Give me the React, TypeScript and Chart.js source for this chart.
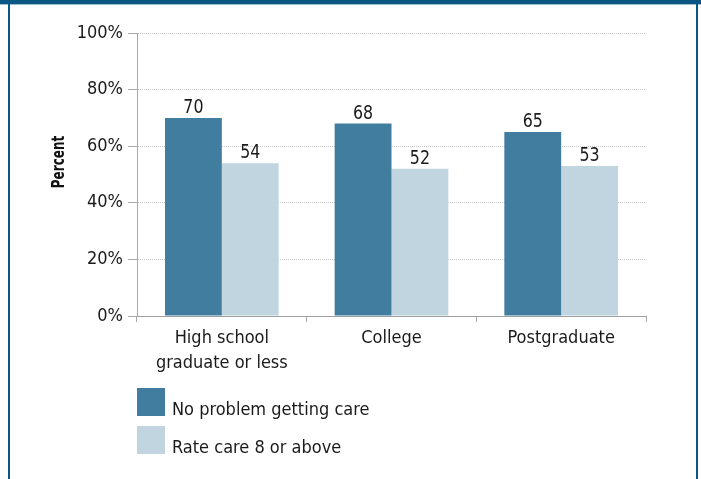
import React, { useEffect, useRef } from "react";
import { Chart, registerables } from "chart.js";

Chart.register(...registerables);

const categories: (string | string[])[] = [["High school", "graduate or less"], "College", "Postgraduate"];
const seriesNames = ["No problem getting care", "Rate care 8 or above"];
const noProblem = [70, 68, 65];
const rateCare = [54, 52, 53];
const yAxisTitle = "Percent";

const FONT = "'DejaVu Sans Condensed', 'DejaVu Sans', sans-serif";
const DARK = "#407d9f";
const LIGHT = "#c0d5e0";
const FRAME = "#0b5783";
const TEXT = "#1a1a1a";

const valueLabels = {
  id: "valueLabels",
  afterDatasetsDraw(chart: any) {
    const ctx = chart.ctx;
    chart.data.datasets.forEach((ds: any, i: number) => {
      const meta = chart.getDatasetMeta(i);
      meta.data.forEach((bar: any, j: number) => {
        ctx.save();
        ctx.font = `20px ${FONT}`;
        ctx.fillStyle = TEXT;
        ctx.textAlign = "center";
        ctx.textBaseline = "alphabetic";
        ctx.translate(bar.x, bar.y - 5);
        ctx.scale(0.88, 1);
        ctx.fillText(String(ds.data[j]), 0, 0);
        ctx.restore();
      });
    });
  },
};

const customLegendAndTitle = {
  id: "customLegendAndTitle",
  afterDraw(chart: any) {
    const ctx = chart.ctx;
    const area = chart.chartArea;
    ctx.save();
    ctx.translate(59, 162);
    ctx.rotate(-Math.PI / 2);
    ctx.scale(0.74, 1);
    ctx.font = `bold 18px ${FONT}`;
    ctx.fillStyle = "#111";
    ctx.textAlign = "center";
    ctx.textBaseline = "middle";
    ctx.fillText(yAxisTitle, 0, 0);
    ctx.restore();

    ctx.save();
    ctx.font = `18px ${FONT}`;
    ctx.textAlign = "left";
    ctx.textBaseline = "alphabetic";
    chart.data.datasets.forEach((ds: any, i: number) => {
      const x = area.left;
      const y = area.bottom + 72 + i * 38;
      ctx.fillStyle = ds.backgroundColor;
      ctx.fillRect(x, y, 28, 28);
      ctx.fillStyle = TEXT;
      ctx.fillText(ds.label, x + 35, y + 27);
    });
    ctx.restore();
  },
};

export default function App() {
  const ref = useRef<HTMLCanvasElement>(null);
  useEffect(() => {
    if (!ref.current) return;
    const chart = new Chart(ref.current, {
      type: "bar",
      data: {
        labels: categories,
        datasets: [
          { label: seriesNames[0], data: noProblem, backgroundColor: DARK, barPercentage: 1, categoryPercentage: 0.67 },
          { label: seriesNames[1], data: rateCare, backgroundColor: LIGHT, barPercentage: 1, categoryPercentage: 0.67 },
        ],
      },
      options: {
        responsive: false,
        animation: false,
        devicePixelRatio: 1,
        layout: { padding: { left: 0, top: 33, right: 55, bottom: 103 } },
        plugins: { legend: { display: false }, tooltip: { enabled: false } },
        scales: {
          x: {
            offset: true,
            grid: { display: true, offset: true, drawOnChartArea: false, drawTicks: true, tickLength: 6, color: "#a8a8a8" },
            border: { display: true, color: "#a0a0a0", width: 1 },
            ticks: { color: TEXT, font: { family: FONT, size: 18, lineHeight: 1.4 }, padding: 4, maxRotation: 0 },
            afterFit(scale: any) { scale.height = 60; },
          },
          y: {
            min: 0,
            max: 100,
            grid: { color: "#c8c8c8", tickColor: "#a8a8a8", tickLength: 9, drawTicks: true, tickBorderDash: [] },
            border: { display: true, color: "#a8a8a8", width: 1, dash: [1, 1] },
            ticks: { stepSize: 20, color: TEXT, font: { family: FONT, size: 18 }, padding: 5, callback: (v: any) => v + "%" },
            afterFit(scale: any) { scale.width = 137; },
          },
        },
      },
      plugins: [valueLabels, customLegendAndTitle],
    });
    return () => chart.destroy();
  }, []);

  return (
    <div style={{ position: "fixed", left: 0, top: 0, width: 701, height: 479, background: "#fff", overflow: "hidden" }}>
      <canvas ref={ref} width={701} height={479} style={{ position: "absolute", left: 0, top: 0 }} />
      <div style={{ position: "absolute", left: 0, top: 0, width: 701, height: 4, background: FRAME }} />
      <div style={{ position: "absolute", left: 0, top: 4, width: 701, height: 1, background: "#9dbdd2" }} />
      <div style={{ position: "absolute", left: 8, top: 0, width: 2, height: 479, background: FRAME }} />
      <div style={{ position: "absolute", left: 696, top: 0, width: 2, height: 479, background: FRAME }} />
    </div>
  );
}
